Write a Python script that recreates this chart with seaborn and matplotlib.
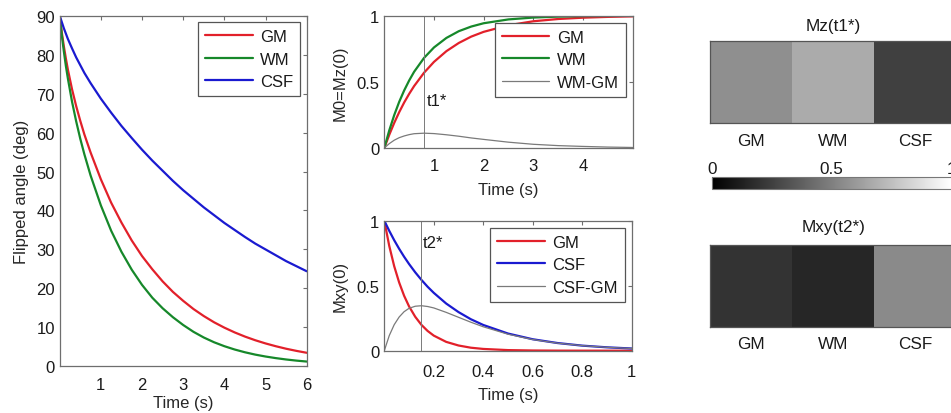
import numpy as np
import pandas as pd
import matplotlib
matplotlib.use("Agg")
import matplotlib.pyplot as plt
import seaborn as sns

# ---------------- data ----------------
# Left panel: flipped angle (deg) vs time (s)
t_angle = [0, 0.05, 0.1, 0.15, 0.2, 0.3, 0.4, 0.5, 0.6, 0.75, 1.0, 1.25, 1.5, 1.75, 2.0, 2.25,
           2.5, 2.75, 3.0, 3.25, 3.5, 3.75, 4.0, 4.25, 4.5, 4.75, 5.0, 5.25, 5.5, 5.75, 6.0]
angle_gm = [90, 85.8, 82.2, 79.0, 76.1, 71.1, 66.8, 63.0, 59.5, 54.9, 48.0, 42.0, 36.9, 32.3,
            28.3, 24.9, 21.8, 19.1, 16.8, 14.7, 12.9, 11.3, 9.92, 8.70, 7.63, 6.69, 5.87, 5.15,
            4.51, 3.96, 3.47]
angle_wm = [90, 85.1, 80.9, 77.1, 73.8, 67.9, 62.9, 58.4, 54.4, 49.0, 41.3, 34.8, 29.4, 24.8,
            20.9, 17.6, 14.9, 12.6, 10.6, 8.85, 7.39, 6.17, 5.16, 4.31, 3.60, 3.00, 2.51, 2.10,
            1.75, 1.46, 1.22]
angle_csf = [90, 88.4, 86.8, 85.4, 84.0, 81.6, 79.3, 77.3, 75.3, 72.7, 68.7, 65.1, 61.7, 58.6,
             55.6, 52.8, 50.2, 47.6, 45.2, 43.0, 40.8, 38.8, 36.8, 35.0, 33.2, 31.5, 30.0, 28.5,
             27.0, 25.7, 24.4]

# Middle top: longitudinal recovery
t_mz = [0, 0.1, 0.2, 0.3, 0.4, 0.5, 0.6, 0.8, 1.0, 1.25, 1.5, 1.75, 2.0, 2.5, 3.0, 3.5, 4.0, 4.5, 5.0]
mz_gm = [0, 0.100, 0.190, 0.271, 0.344, 0.409, 0.468, 0.569, 0.651, 0.732, 0.794, 0.842, 0.878,
         0.928, 0.958, 0.975, 0.985, 0.991, 0.995]
mz_wm = [0, 0.133, 0.249, 0.349, 0.435, 0.510, 0.576, 0.681, 0.760, 0.832, 0.883, 0.918, 0.943,
         0.972, 0.986, 0.993, 0.997, 0.998, 0.999]
mz_diff = [0, 0.033, 0.059, 0.078, 0.091, 0.101, 0.108, 0.112, 0.109, 0.100, 0.089, 0.076, 0.065,
           0.044, 0.028, 0.018, 0.012, 0.007, 0.004]
t1_star = 0.805

# Middle bottom: transverse decay
t_mxy = [0, 0.02, 0.04, 0.06, 0.08, 0.1, 0.125, 0.15, 0.175, 0.2, 0.25, 0.3, 0.35, 0.4, 0.5,
         0.6, 0.7, 0.8, 0.9, 1.0]
mxy_gm = [1, 0.806, 0.650, 0.525, 0.423, 0.341, 0.261, 0.199, 0.152, 0.116, 0.068, 0.040, 0.023,
          0.0136, 0.0046, 0.0016, 0.0005, 0.0002, 0.0001, 0.0]
mxy_csf = [1, 0.922, 0.850, 0.784, 0.723, 0.667, 0.603, 0.545, 0.492, 0.445, 0.363, 0.297, 0.242,
           0.198, 0.132, 0.088, 0.059, 0.039, 0.026, 0.017]
mxy_diff = [0, 0.116, 0.200, 0.259, 0.300, 0.326, 0.342, 0.346, 0.340, 0.329, 0.295, 0.257, 0.219,
            0.184, 0.127, 0.086, 0.058, 0.039, 0.026, 0.017]
t2_star = 0.147

# Right: gray-scale maps
tissues = ["GM", "WM", "CSF"]
mz_t1 = [0.56, 0.67, 0.25]
mxy_t2 = [0.20, 0.15, 0.54]

# ---------------- style ----------------
sns.set_style("white")
plt.rcParams["font.family"] = ["Liberation Sans", "DejaVu Sans"]
plt.rcParams["axes.edgecolor"] = "#6e6e6e"
plt.rcParams["axes.linewidth"] = 0.9
plt.rcParams["xtick.direction"] = "in"
plt.rcParams["ytick.direction"] = "in"
plt.rcParams["text.color"] = "#1a1a1a"
plt.rcParams["xtick.color"] = "#6e6e6e"
plt.rcParams["ytick.color"] = "#6e6e6e"
plt.rcParams["xtick.labelcolor"] = "#1a1a1a"
plt.rcParams["ytick.labelcolor"] = "#1a1a1a"

RED = "#e2202a"
GREEN = "#16882a"
BLUE = "#1a1ad0"
GRAY = "#7a7a7a"
LW = 1.6
FS = 12

W, H = 951, 414
fig = plt.figure(figsize=(W / 100, H / 100), dpi=100)


def box(x0, y0, x1, y1):
    return [x0 / W, 1 - y1 / H, (x1 - x0) / W, (y1 - y0) / H]


def style_axes(ax, xpad=7.5):
    ax.tick_params(axis="both", which="both", direction="in", top=True, right=True,
                   length=3, width=0.8, labelsize=FS)
    ax.tick_params(axis="x", pad=xpad)
    ax.tick_params(axis="y", pad=3.5)
    for s in ax.spines.values():
        s.set_visible(True)
        s.set_color("#6e6e6e")


def make_legend(ax, pad):
    leg = ax.legend(loc="upper right", fontsize=FS, frameon=True, fancybox=False,
                    framealpha=1, edgecolor="#555555", handlelength=2.85, handletextpad=0.45,
                    borderpad=0.42, labelspacing=0.45, borderaxespad=pad)
    leg.get_frame().set_linewidth(0.9)
    return leg


# ---------------- left panel ----------------
ax1 = fig.add_axes(box(59.7, 16.7, 306.7, 367.3))
n = len(t_angle)
df_a = pd.DataFrame({"t": t_angle * 3,
                     "v": angle_gm + angle_wm + angle_csf,
                     "tissue": ["GM"] * n + ["WM"] * n + ["CSF"] * n})
sns.lineplot(data=df_a, x="t", y="v", hue="tissue", palette={"GM": RED, "WM": GREEN, "CSF": BLUE},
             linewidth=LW, ax=ax1, sort=False)
ax1.set_xlim(0, 6)
ax1.set_ylim(0, 90)
ax1.set_xticks([1, 2, 3, 4, 5, 6])
ax1.set_yticks(range(0, 91, 10))
ax1.set_xlabel("Time (s)", fontsize=FS, labelpad=2.4)
ax1.set_ylabel("Flipped angle (deg)", fontsize=FS, labelpad=5.5)
style_axes(ax1)
make_legend(ax1, 0.38)

# ---------------- middle top ----------------
ax2 = fig.add_axes(box(384.3, 16.7, 632.7, 149))
sns.lineplot(x=t_mz, y=mz_gm, color=RED, linewidth=LW, ax=ax2, label="GM")
sns.lineplot(x=t_mz, y=mz_wm, color=GREEN, linewidth=LW, ax=ax2, label="WM")
sns.lineplot(x=t_mz, y=mz_diff, color=GRAY, linewidth=0.9, ax=ax2, label="WM-GM")
ax2.axvline(t1_star, color=GRAY, linewidth=0.7)
ax2.text(t1_star + 0.05, 0.36, "t1*", fontsize=FS, va="center", ha="left")
ax2.set_xlim(0, 5)
ax2.set_ylim(0, 1)
ax2.set_xticks([1, 2, 3, 4])
ax2.set_yticks([0, 0.5, 1])
ax2.set_yticklabels(["0", "0.5", "1"])
ax2.set_xlabel("Time (s)", fontsize=FS, labelpad=6.5)
ax2.set_ylabel("M0=Mz(0)", fontsize=FS, labelpad=6)
style_axes(ax2)
make_legend(ax2, 0.42)

# ---------------- middle bottom ----------------
ax3 = fig.add_axes(box(384.3, 221.7, 631.7, 351.7))
sns.lineplot(x=t_mxy, y=mxy_gm, color=RED, linewidth=LW, ax=ax3, label="GM")
sns.lineplot(x=t_mxy, y=mxy_csf, color=BLUE, linewidth=LW, ax=ax3, label="CSF")
sns.lineplot(x=t_mxy, y=mxy_diff, color=GRAY, linewidth=0.9, ax=ax3, label="CSF-GM")
ax3.axvline(t2_star, color=GRAY, linewidth=0.7)
ax3.text(t2_star + 0.008, 0.835, "t2*", fontsize=FS, va="center", ha="left")
ax3.set_xlim(0, 1)
ax3.set_ylim(0, 1)
ax3.set_xticks([0.2, 0.4, 0.6, 0.8, 1.0])
ax3.set_xticklabels(["0.2", "0.4", "0.6", "0.8", "1"])
ax3.set_yticks([0, 0.5, 1])
ax3.set_yticklabels(["0", "0.5", "1"])
ax3.set_xlabel("Time (s)", fontsize=FS, labelpad=5.5)
ax3.set_ylabel("Mxy(0)", fontsize=FS, labelpad=6)
style_axes(ax3, xpad=9.5)
make_legend(ax3, 0.42)


# ---------------- right: gray maps ----------------
def gray_map(rect, values, title, tpad, lpad):
    ax = fig.add_axes(rect)
    df = pd.DataFrame([values], columns=tissues)
    sns.heatmap(df, cmap="gray", vmin=0, vmax=1, cbar=False, ax=ax,
                xticklabels=tissues, yticklabels=False)
    ax.set_title(title, fontsize=12.3, pad=tpad)
    ax.tick_params(axis="x", direction="in", length=2, top=True, bottom=True,
                   labelsize=12.3, pad=lpad, colors="#444444", labelcolor="#1a1a1a")
    ax.tick_params(axis="y", left=False, right=False)
    for s in ax.spines.values():
        s.set_visible(True)
        s.set_color("#555555")
        s.set_linewidth(0.9)
    ax.set_xlabel("")
    ax.set_ylabel("")
    return ax


gray_map(box(710, 41.7, 956.3, 124), mz_t1, "Mz(t1*)", 7.5, 7)
gray_map(box(710, 246, 956.3, 328.3), mxy_t2, "Mxy(t2*)", 10, 6)

cax = fig.add_axes(box(711.7, 178.3, 951.7, 190))
sm = matplotlib.cm.ScalarMappable(norm=matplotlib.colors.Normalize(0, 1), cmap="gray")
cb = fig.colorbar(sm, cax=cax, orientation="horizontal", ticks=[0, 0.5, 1])
cb.ax.xaxis.set_ticks_position("top")
cb.ax.set_xticklabels(["0", "0.5", "1"])
cb.ax.tick_params(direction="in", length=2, labelsize=12.3, pad=1, colors="#444444",
                  labelcolor="#1a1a1a")
cb.outline.set_edgecolor("#777777")
cb.outline.set_linewidth(0.8)

fig.savefig("out.png", dpi=100)
